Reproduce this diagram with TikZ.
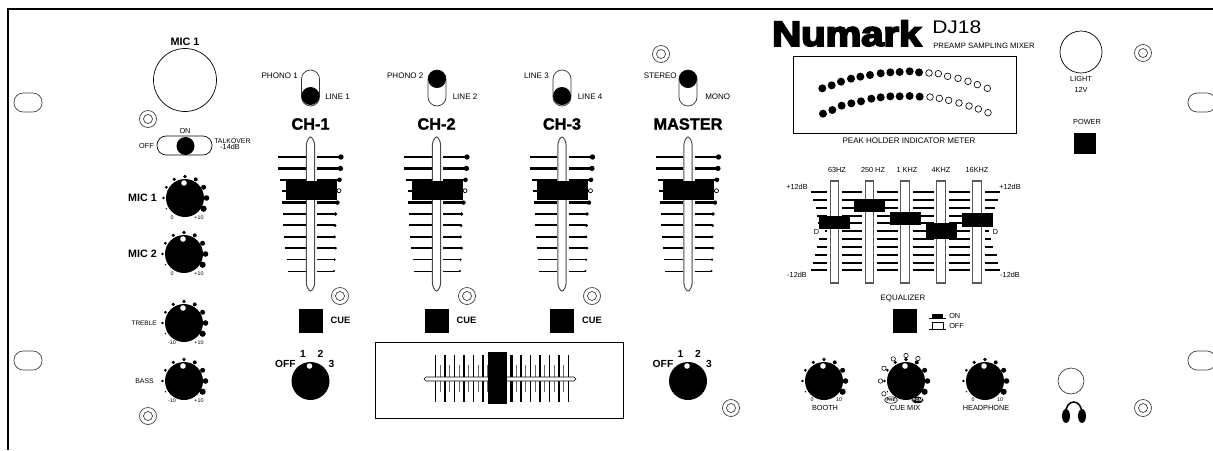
\documentclass[tikz,border=0pt]{standalone}
\usepackage{fontspec}
\setmainfont{Liberation Sans}
\newfontfamily\logofont[FakeBold=5]{Liberation Sans Bold}
\newfontfamily\headfont[FakeBold=1.5]{Liberation Sans Bold}
\newfontfamily\modelfont[FakeStretch=1.15]{Liberation Sans}
\usepackage{tikz}

\newcommand{\panelscrew}[2]{
\draw [black!75,line width=0.5pt] (#1,#2) circle (8.5);
\draw [black!75,line width=0.5pt] (#1,#2) circle (4.5);
}
\newcommand{\panelslot}[2]{
\draw [black!75,line width=0.5pt,rounded corners=6.5pt] (#1,#2) rectangle ({#1+28},{#2-19});
}
\newcommand{\plainknob}[2]{
\fill [black] (#1,#2) circle (19);
\fill [white] ({#1-1},{#2+15}) circle (2.8);
}
\newcommand{\dotknob}[2]{
\plainknob{#1}{#2}
\foreach \ang/\rad in {210/0.7,180/1.3,150/1.6,120/1.7,90/1.8,60/2,30/2.5,0/2.8,-30/3.1}
  \fill [black] (#1,#2) ++(\ang:21.5) circle (\rad);
}
\newcommand{\chfader}[2]{
\foreach \lev/\lft/\rgt/\wid/\rad in {0/32.5/30.5/1.9/2.7,1/32.5/30/1.9/2.6,2/30.5/29/1.7/2.3,3/29/28.5/1.1/0,4/28.5/27/1.6/2.2,5/27.5/25/1.5/1.8,6/27.5/24.5/1.4/1.6,7/26.5/24/1.3/1.5,8/25.5/25/1.3/1.5,9/24/24/1.2/1.3,10/23/23.5/0.7/1.1}{
  \draw [black,line width=\wid pt] ({#1-\lft},{-157-11.4*\lev}) -- ({#1-5},{-157-11.4*\lev});
  \draw [black,line width=\wid pt] ({#1+6.5},{-157-11.4*\lev}) -- ({#1+\rgt},{-157-11.4*\lev});
  \fill [black] ({#1+\rgt},{-157-11.4*\lev}) circle (\rad);
}
\draw [black,line width=0.5pt,fill=white] ({#1+28.5},-190.7) circle (2);
\draw [black!70,line width=0.7pt,fill=white] ({#1-4.2},-146) .. controls ({#1-4.2},-141) and ({#1-1.5},-137) .. ({#1},-137) .. controls ({#1+1.5},-137) and ({#1+4.2},-141) .. ({#1+4.2},-146) -- ({#1+4.2},-282) .. controls ({#1+4.2},-287) and ({#1+1.5},-291) .. ({#1},-291) .. controls ({#1-1.5},-291) and ({#1-4.2},-287) .. ({#1-4.2},-282) -- cycle;
\fill [black] ({#1-25},-181) rectangle ({#1+26},-200);
\node [font=\fontsize{11.6}{12}\headfont\selectfont] (#2) at (#1,-124) {#2};
}
\newcommand{\vswitch}[2]{
\draw [black!80,line width=0.5pt,rounded corners=6.4pt] ({#1-9},-70) rectangle ({#1+9},-106);
\fill [black] (#1,#2) circle (9);
}
\newcommand{\eqfader}[3]{
\fill [white] ({#1-7.5},-182) rectangle ({#1+7.5},-282);
\draw [black!65,line width=0.9pt,fill=white] ({#1-4.3},-181) rectangle ({#1+4.3},-283);
\fill [black] ({#1-15.5},#2) rectangle ({#1+15.5},#3);
}

\begin{document}
\begin{tikzpicture}[x=0.025cm,y=0.025cm]
\tikzstyle{every node}+=[inner sep=0pt]
\tikzstyle{small label}=[font=\fontsize{5.2}{6}\selectfont]
\tikzstyle{wide label}=[font=\fontsize{5.7}{6}\selectfont]
\tikzstyle{tiny label}=[font=\fontsize{3.8}{4}\selectfont]
\tikzstyle{knob label}=[font=\fontsize{7.3}{9}\bfseries\selectfont]
\useasboundingbox (0,0) rectangle (1213,-450);
\draw [black,line width=1.1pt] (8,-450) -- (8,-9) -- (1213,-9);

\panelslot{14}{-93}
\panelslot{14}{-351}
\panelslot{1188}{-93}
\panelslot{1188}{-351}
\foreach \sx/\sy in {148/-119,148/-416,340/-296,467/-296,592/-296,661/-54,731/-408,1143/-53,1143/-408}{
  \panelscrew{\sx}{\sy}
}

\draw [black,line width=0.5pt] (185,-80) circle (31.5);
\node [font=\fontsize{7.7}{8}\bfseries\selectfont] (mic big) at (185,-42) {MIC 1};
\draw [black,line width=0.5pt,rounded corners=6.5pt] (157,-136) rectangle (212,-155);
\fill [black] (185.5,-146) circle (9);
\node [small label] (talk on) at (185,-131) {ON};
\node [small label,anchor=east] (talk off) at (154,-146) {OFF};
\node [font=\fontsize{4.9}{6}\selectfont,anchor=west] (talk over) at (214,-141.5) {TALKOVER};
\node [small label,anchor=west] (talk pad) at (220,-146.5) {-14dB};

\dotknob{185}{-198}
\dotknob{184}{-254}
\dotknob{184}{-323}
\dotknob{184}{-381}
\node [font=\fontsize{7.6}{9}\bfseries\selectfont,anchor=east] (mic one) at (157,-198) {MIC 1};
\node [font=\fontsize{7.6}{9}\bfseries\selectfont,anchor=east] (mic two) at (157,-254) {MIC 2};
\node [font=\fontsize{4.6}{6}\selectfont,anchor=east] (treble) at (157,-323) {TREBLE};
\node [font=\fontsize{4.9}{6}\selectfont,anchor=east] (bass) at (154,-381) {BASS};
\foreach \ky/\kmin/\nm in {198/0/a,254/0/b,323/-10/c,381/-10/d}{
  \node [tiny label] (low \nm) at (172,{-\ky-19.5}) {\kmin};
  \node [tiny label] (high \nm) at (199,{-\ky-19.5}) {+10};
}

\vswitch{310.5}{-96}
\vswitch{437}{-79}
\vswitch{562}{-96}
\vswitch{688}{-79}
\node [wide label,anchor=east] (phono one) at (298,-76) {PHONO 1};
\node [wide label,anchor=west] (line one) at (325,-97) {LINE 1};
\node [wide label,anchor=east] (phono two) at (423.5,-76) {PHONO 2};
\node [wide label,anchor=west] (line two) at (452.5,-97) {LINE 2};
\node [wide label,anchor=east] (line three) at (549,-76) {LINE 3};
\node [wide label,anchor=west] (line four) at (577.5,-97) {LINE 4};
\node [wide label,anchor=east] (stereo) at (677,-76) {STEREO};
\node [wide label,anchor=west] (mono) at (705,-97) {MONO};

\chfader{310.5}{CH-1}
\chfader{436.5}{CH-2}
\chfader{562}{CH-3}
\chfader{688}{MASTER}

\foreach \cx/\nm in {310.5/a,436.5/b,562/c}{
  \fill [black] ({\cx-12},-309) rectangle ({\cx+12},-333);
  \node [font=\fontsize{6.6}{8}\bfseries\selectfont] (cue \nm) at ({\cx+30},-320.5) {CUE};
}

\plainknob{310.5}{-381}
\plainknob{688}{-381}
\foreach \kx/\nm in {310.5/a,688/b}{
  \node [knob label] (off \nm) at ({\kx-25},-364) {OFF};
  \node [knob label] (one \nm) at ({\kx-7.5},-354) {1};
  \node [knob label] (two \nm) at ({\kx+10},-354) {2};
  \node [knob label] (three \nm) at ({\kx+21},-364) {3};
}

\draw [black,line width=0.5pt] (375,-342) rectangle (623,-418);
\foreach \i/\wid in {0/0.9,1/0.9,2/0.9,3/1.3,4/1.1,5/1.2,6/1.4,7/1.4,8/1.6,9/1.4,10/1.3,11/1.3,12/0.9,13/0.9,14/1.1}{
  \draw [black,line width=\wid pt] ({435.5+9.5*\i},-355) -- ({435.5+9.5*\i},-402);
}
\foreach \i in {0,...,13}{
  \draw [black!60,line width=0.8pt] ({440.25+9.5*\i},-365) -- ({440.25+9.5*\i},-392);
}
\draw [black,line width=0.4pt,fill=white,rounded corners=1.4pt] (424,-377) rectangle (576,-381);
\fill [black] (488,-352) rectangle (507,-404);

\node [anchor=south west,font=\logofont] (numark) at (772,-46.5) {\resizebox{106pt}{18pt}{Numark}};
\node [anchor=base west,font=\fontsize{13}{13}\modelfont\selectfont] (model) at (932,-33.5) {DJ18};
\node [font=\fontsize{5.5}{6}\selectfont,anchor=west] (subtitle) at (933,-45.5) {PREAMP SAMPLING MIXER};

\draw [black,line width=0.5pt] (793,-56) rectangle (1016,-133);
\foreach \mx/\my in {187/265,215/256,243/245,273/236,301/230,330/225,362/220,391/217,419/216,449/214,477/217,189/341,217/330,245/317,274/310,303/304,334/296,362/292,391/289,419/289,449/288,479/290}
  \fill [black] ({760+\mx/3},{-\my/3}) circle (4);
\foreach \mx/\my in {507/219,535/221,563/229,594/235,624/244,652/254,682/265,510/291,538/295,566/301,597/309,627/318,655/327,684/338}
  \draw [black,line width=0.45pt] ({760+\mx/3},{-\my/3}) circle (3.3);
\node [wide label] (peak) at (909,-141) {PEAK HOLDER INDICATOR METER};

\draw [black,line width=0.5pt] (1081,-52) circle (21);
\node [small label] (light) at (1081,-79) {LIGHT};
\node [small label] (volts) at (1081,-90) {12V};
\node [small label] (power) at (1087,-122) {POWER};
\fill [black] (1074,-133) rectangle (1096,-154);

\node [small label] (band a) at (837,-170) {63HZ};
\node [small label] (band b) at (873,-170) {250 HZ};
\node [small label] (band c) at (907,-170) {1 KHZ};
\node [small label] (band d) at (941,-170) {4KHZ};
\node [small label] (band e) at (977,-170) {16KHZ};
\foreach \ey/\lft/\rgt/\wid in {192/811/1000/1.3,200/813/998/1.4,208/816/995/1.4,216/817/992/1.4,223/818/990/1.4,231/825/989/1.4,239/819/991/1.4,247/817/993/1.4,255/815/997/1.5,263/813/998/1.6,270/811/1000/1.7}
  \draw [black,line width=\wid pt] (\lft,-\ey) -- (\rgt,-\ey);
\eqfader{834.5}{-216}{-229}
\eqfader{869.5}{-199}{-212}
\eqfader{905}{-212}{-225}
\eqfader{941}{-223}{-239}
\eqfader{977}{-213}{-227}
\node [small label] (top left) at (797,-187) {+12dB};
\node [small label] (top right) at (1010,-187) {+12dB};
\node [small label] (mid left) at (816.5,-232) {D};
\node [small label] (mid right) at (995.5,-232) {D};
\node [small label] (low left) at (797,-275) {-12dB};
\node [small label] (low right) at (1010,-275) {-12dB};

\node [font=\fontsize{5.6}{6}\selectfont] (equalizer) at (903,-298) {EQUALIZER};
\fill [black] (893,-309) rectangle (917,-333);
\draw [black,line width=0.4pt] (929,-318) -- (946,-318);
\fill [black] (932,-314) rectangle (943,-318);
\draw [black,line width=0.4pt] (929,-329) -- (946,-329);
\draw [black,line width=0.4pt] (932,-329) -- (932,-322) -- (943,-322) -- (943,-329);
\node [small label,anchor=west] (eq on) at (949,-316) {ON};
\node [small label,anchor=west] (eq off) at (949,-326) {OFF};

\dotknob{824}{-381}
\dotknob{906}{-381}
\dotknob{985}{-381}
\foreach \kx/\nm in {824/a,985/b}{
  \node [tiny label] (zero \nm) at ({\kx-12},-400) {0};
  \node [tiny label] (ten \nm) at ({\kx+15},-400) {10};
}
\foreach \ang in {210,180,150,120,90,62}
  \draw [black,line width=0.4pt,fill=white] (906,-381) ++(\ang:25.5) circle (2.2);
\draw [black,line width=0.4pt,fill=white] (891,-400) ellipse (6.5 and 3.2);
\node [font=\fontsize{3}{3}\bfseries\selectfont] (cue pre) at (891,-400) {PRE};
\fill [black] (917.5,-400) ellipse (6 and 3.2);
\node [font=\fontsize{3}{3}\bfseries\selectfont,text=white] (cue pgm) at (917.5,-400) {PGM};
\node [small label] (booth) at (825,-408) {BOOTH};
\node [small label] (cue mix) at (905,-408) {CUE MIX};
\node [small label] (headphone) at (986,-408) {HEADPHONE};

\draw [black!75,line width=0.5pt] (1071,-381) circle (13);
\draw [black,line width=1.1pt] (1065.5,-414) .. controls (1065.5,-398) and (1082,-398) .. (1082,-414);
\fill [black] (1066,-416) ellipse (4 and 7);
\fill [black] (1082,-416) ellipse (4 and 7);
\end{tikzpicture}
\end{document}
